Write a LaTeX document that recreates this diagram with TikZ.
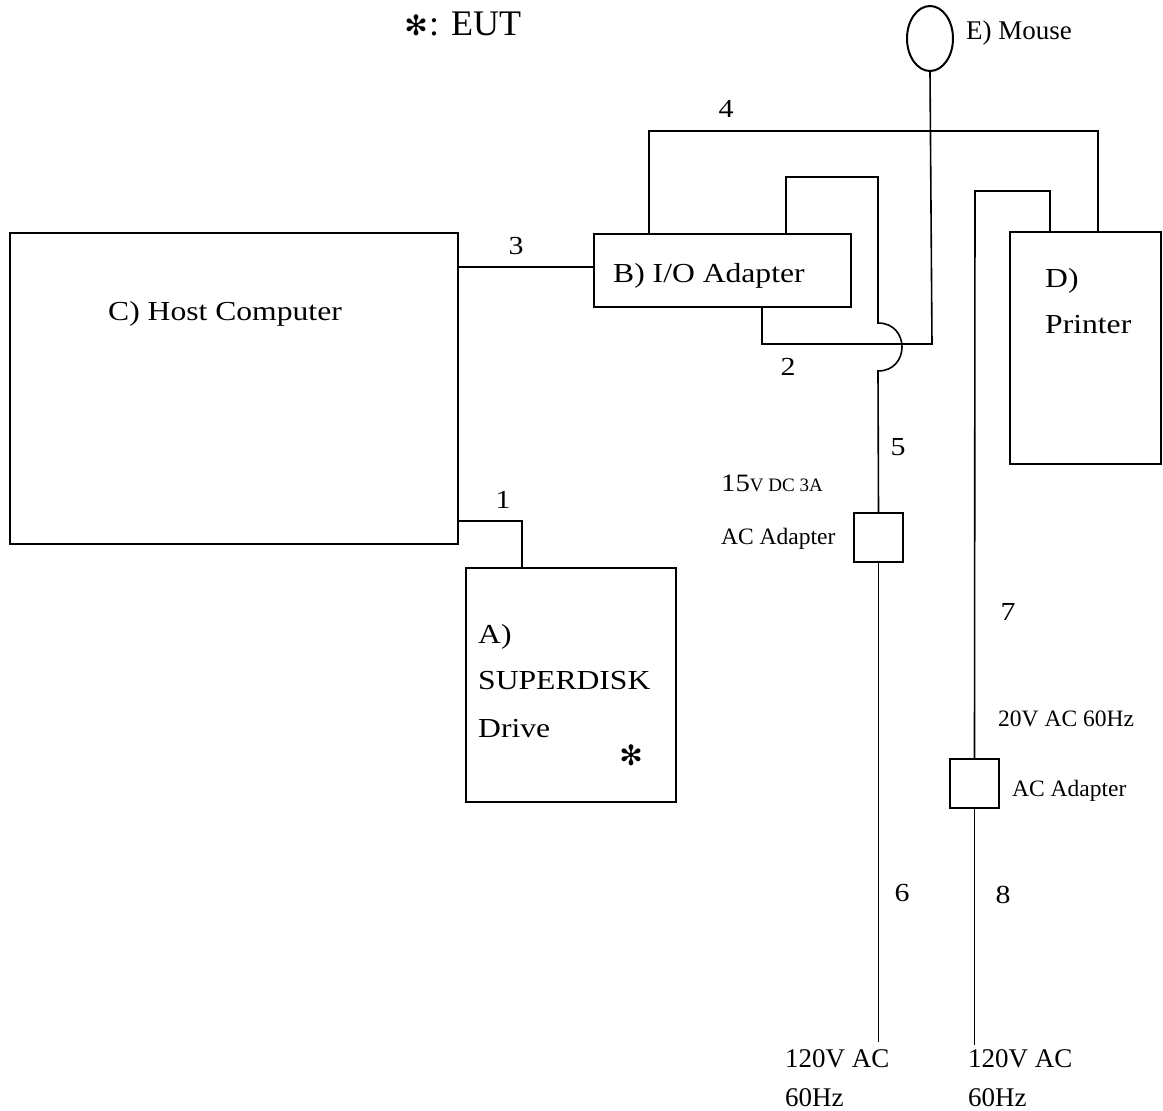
\documentclass[tikz,border=0pt]{standalone}
\usepackage{fontspec}
\setmainfont{Liberation Serif}
\newfontfamily\cent[FakeStretch=1.15]{Liberation Serif}
\newfontfamily\dingf{DejaVu Sans}
\usetikzlibrary{shapes.geometric}
\tikzset{
  box/.style={draw, line width=2pt, inner sep=0pt, outer sep=0pt},
  wire/.style={line width=1.6pt, line join=miter},
  cbig/.style={inner sep=0pt, font=\cent\fontsize{27.5}{33}\selectfont},
  cnum/.style={inner sep=0pt, anchor=base, font=\cent\fontsize{26}{31}\selectfont},
  tmed/.style={inner sep=0pt, anchor=base west, font=\fontsize{27}{32}\selectfont},
  tsmall/.style={inner sep=0pt, anchor=base west, font=\fontsize{23.5}{28}\selectfont},
}
\begin{document}
\begin{tikzpicture}[x=1pt,y=-1pt]
\useasboundingbox (0,0) rectangle (1163,1111);
% boxes
\node[box, minimum width=448pt, minimum height=311pt] (host) at (234,388.5) {};
\node[box, minimum width=257pt, minimum height=73pt] (io) at (722.5,270.5) {};
\node[box, minimum width=210pt, minimum height=234pt] (drive) at (571,685) {};
\node[box, minimum width=151pt, minimum height=232pt] (printer) at (1085.5,348) {};
\node[draw, line width=2pt, ellipse, inner sep=0pt, minimum width=46pt, minimum height=65pt] (mouse) at (930,38.5) {};
\node[box, minimum width=49pt, minimum height=49pt] (ac1) at (878.5,537.5) {};
\node[box, minimum width=49pt, minimum height=49pt] (ac2) at (974.5,783.5) {};
% box texts
\node[cbig, anchor=base] (thost) at (225,320) {C) Host Computer};
\node[cbig, anchor=base west] (tio) at (613,282) {B) I/O Adapter};
\node[cbig, anchor=base west] (tdrA) at (478,643) {A)};
\node[cbig, anchor=base west] (tdrB) at (478,689) {SUPERDISK};
\node[cbig, anchor=base west] (tdrC) at (478,737) {Drive};
\node[inner sep=0pt, font=\dingf\fontsize{28}{32}\selectfont] (tdrS) at (631,755) {✻};
\node[cbig, anchor=base west] (tprA) at (1045,287) {D)};
\node[cbig, anchor=base west] (tprB) at (1045,333) {Printer};
\node[tmed] (tmouse) at (966,39) {E) Mouse};
\node[inner sep=0pt, font=\dingf\fontsize{28}{32}\selectfont] (teutS) at (416,25) {✻};
\node[inner sep=0pt, anchor=base west, font=\fontsize{36}{40}\selectfont] (teut) at (429,35) {: EUT};
% coordinates
\coordinate (c1) at (522,521);
\coordinate (c3) at (0,267);
\coordinate (c4a) at (649,131);
\coordinate (c4b) at (1098,131);
\coordinate (c5a) at (786,177);
\coordinate (c5b) at (878,177);
\coordinate (c5c) at (878,323);
\coordinate (c5d) at (878,371);
\coordinate (c2a) at (762,344);
\coordinate (c2b) at (932,344);
\coordinate (c7a) at (1050,191);
\coordinate (c7b) at (975,191);
\coordinate (e6) at (878.5,1042);
\coordinate (e8) at (974.5,1045);
% connectors
\draw[wire] (host.east |- c1) -- (c1) -- (drive.north -| c1);
\draw[wire] (host.east |- c3) -- (io.west |- c3);
\draw[wire] (io.north -| c4a) -- (c4a) -- (c4b) -- (printer.north -| c4b);
\draw[wire] (io.north -| c5a) -- (c5a) -- (c5b) -- (c5c)
   .. controls (910,323) and (910,371) .. (c5d) -- (ac1.north);
\draw[wire] (io.south -| c2a) -- (c2a) -- (c2b) -- (mouse.south);
\draw[wire] (ac1.south) -- (e6);
\draw[wire] (printer.north -| c7a) -- (c7a) -- (c7b) -- (ac2.north);
\draw[wire] (ac2.south) -- (e8);
% connector labels
\node[cnum] (l1) at (503,508) {1};
\node[cnum] (l2) at (788,375) {2};
\node[cnum] (l3) at (516,254) {3};
\node[cnum] (l4) at (726,117) {4};
\node[cnum] (l5) at (898,455) {5};
\node[cnum] (l6) at (902,901) {6};
\node[cnum] (l7) at (1008,620) {7};
\node[cnum] (l8) at (1003,903) {8};
% power labels
\node[inner sep=0pt, anchor=base west] (t15) at (721,491) {{\cent\fontsize{25}{30}\selectfont 15}{\fontsize{19}{23}\selectfont V DC 3A}};
\node[tsmall] (tac1) at (721,544) {AC Adapter};
\node[tsmall] (t20) at (998,726) {20V AC 60Hz};
\node[tsmall] (tac2) at (1012,796) {AC Adapter};
\node[tmed] (tm1a) at (785,1067) {120V AC};
\node[tmed] (tm1b) at (785,1106) {60Hz};
\node[tmed] (tm2a) at (968,1067) {120V AC};
\node[tmed] (tm2b) at (968,1106) {60Hz};
\end{tikzpicture}
\end{document}
